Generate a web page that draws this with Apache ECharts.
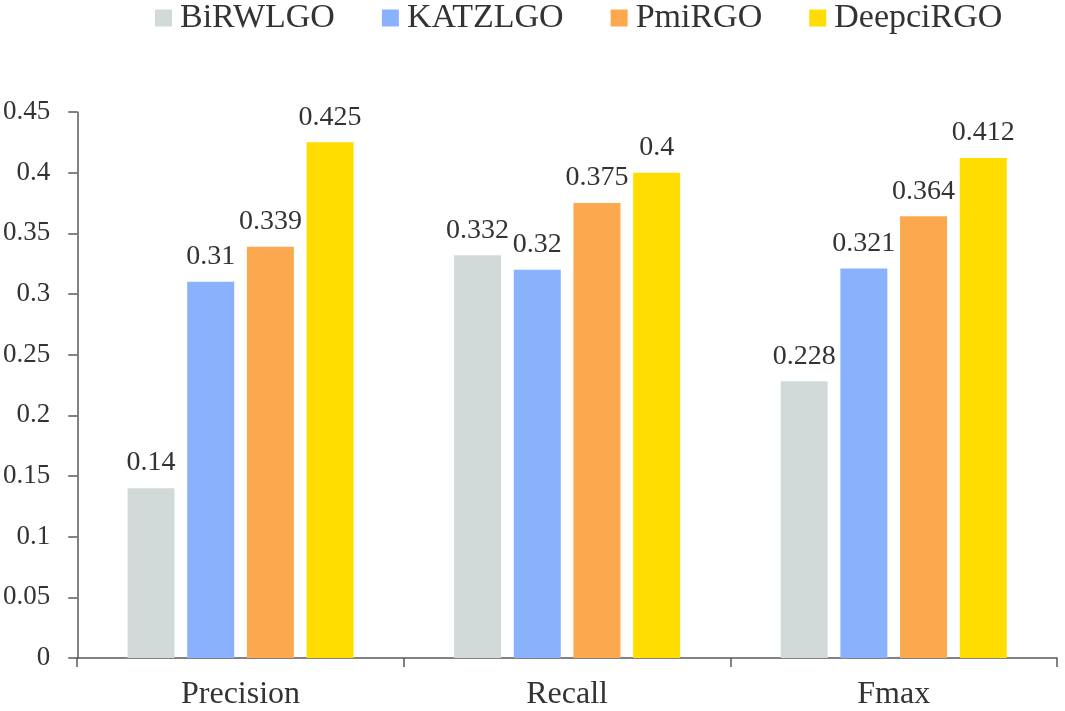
<!DOCTYPE html>
<html><head><meta charset="utf-8">
<script src="https://cdn.jsdelivr.net/npm/echarts@6/dist/echarts.min.js"></script>
<style>html,body{margin:0;padding:0;background:#fff}#c{width:1065px;height:711px}</style>
</head><body><div id="c"></div>
<script>
const categories = ['Precision', 'Recall', 'Fmax'];
const seriesNames = ['BiRWLGO', 'KATZLGO', 'PmiRGO', 'DeepciRGO'];
const BiRWLGO = [0.14, 0.332, 0.228];
const KATZLGO = [0.31, 0.32, 0.321];
const PmiRGO = [0.339, 0.375, 0.364];
const DeepciRGO = [0.425, 0.4, 0.412];
const colors = ['#D2DAD9', '#8AB2FC', '#FBA84F', '#FFDD00'];
const values = [BiRWLGO, KATZLGO, PmiRGO, DeepciRGO];
const font = '"Liberation Serif", "Times New Roman", serif';
const chart = echarts.init(document.getElementById('c'));
chart.setOption({
  animation: false,
  textStyle: { fontFamily: font },
  legend: {
    top: -4, left: 150,
    icon: 'rect', itemWidth: 17, itemHeight: 17, itemGap: 47,
    textStyle: { fontFamily: font, fontSize: 34, color: '#333', padding: [0, 0, 0, 3] },
    data: seriesNames
  },
  grid: { left: 76, right: 8, top: 112, bottom: 48, containLabel: false },
  xAxis: {
    type: 'category', data: categories,
    axisLine: { lineStyle: { color: '#595959', width: 1.5 } },
    axisTick: { show: true, length: 9, lineStyle: { color: '#595959', width: 1.5 } },
    axisLabel: { fontFamily: font, fontSize: 32, color: '#333', margin: 21 }
  },
  yAxis: {
    type: 'value', min: 0, max: 0.45, interval: 0.05,
    splitLine: { show: false },
    axisLine: { show: true, lineStyle: { color: '#595959', width: 1.5 } },
    axisTick: { show: true, length: 9, lineStyle: { color: '#595959', width: 1.5 } },
    axisLabel: { fontFamily: font, fontSize: 27, color: '#333', margin: 27,
      formatter: v => String(parseFloat(v.toFixed(2))) }
  },
  series: seriesNames.map((n, i) => ({
    name: n, type: 'bar', data: values[i], barWidth: 47, barGap: '27%',
    itemStyle: { color: colors[i] },
    label: { show: true, position: 'top', distance: 11, fontFamily: font, fontSize: 28, color: '#333',
      formatter: p => String(p.value) }
  }))
});
</script></body></html>
